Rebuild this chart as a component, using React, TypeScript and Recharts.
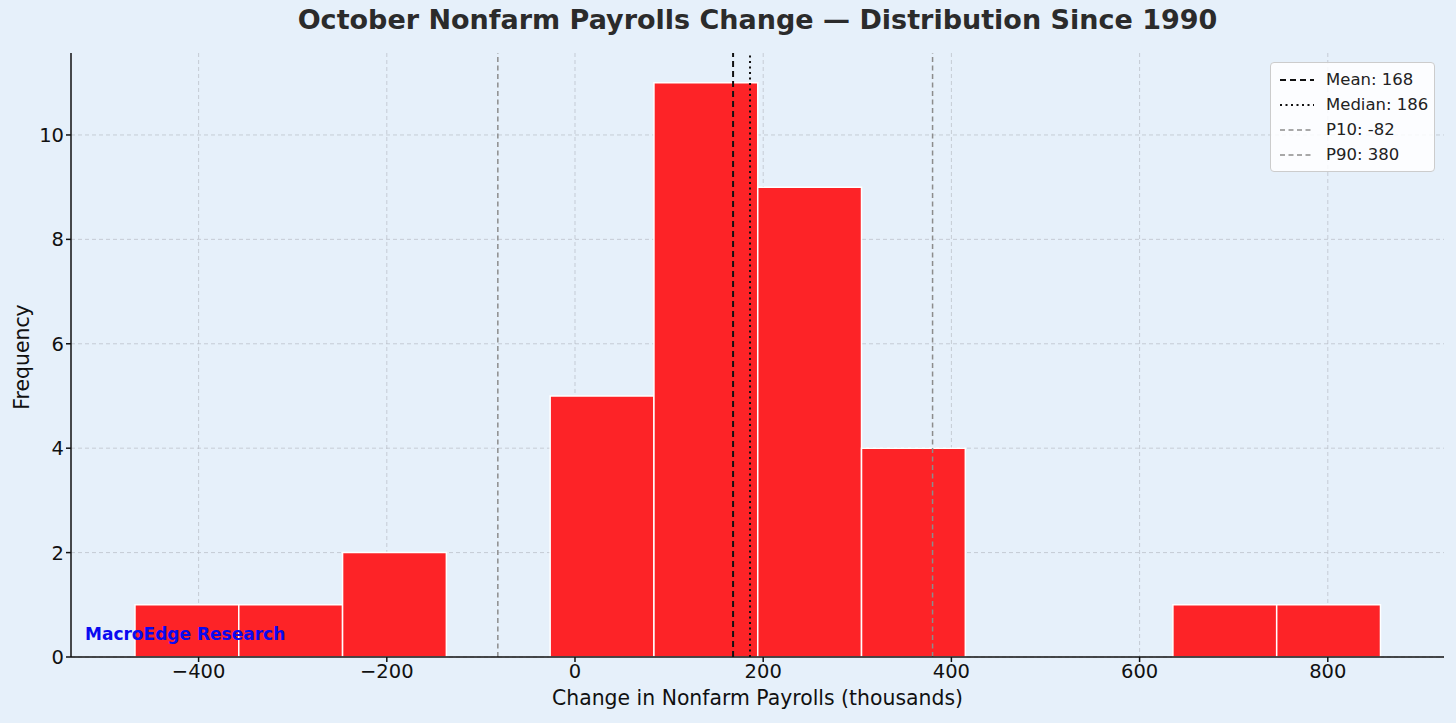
import {
  CartesianGrid,
  ComposedChart,
  Line,
  ReferenceArea,
  ReferenceLine,
  XAxis,
  YAxis,
} from "recharts"

// histogram bin edges (thousands) and counts, Octobers 1990-2024
const binEdges = [
  -467.6, -357.3, -247, -136.7, -26.4, 83.9, 194.2, 304.5, 414.8, 525.1, 635.4,
  745.7, 856,
]
const counts = [1, 1, 2, 0, 5, 11, 9, 4, 0, 0, 1, 1]
const xTicks = [-400, -200, 0, 200, 400, 600, 800]
const yTicks = [0, 2, 4, 6, 8, 10]
const stats = [
  { name: "Mean", value: 168 },
  { name: "Median", value: 186 },
  { name: "P10", value: -82 },
  { name: "P90", value: 380 },
]

const bins = counts.map((c, i) => ({
  x0: binEdges[i],
  x1: binEdges[i + 1],
  mid: (binEdges[i] + binEdges[i + 1]) / 2,
  count: c,
}))

const font = "'DejaVu Sans', sans-serif"
const bg = "#e6f0fa"
const barRed = "#fd2327"

const lineStyles: Record<string, { stroke: string; width: number; dash: string }> = {
  Mean: { stroke: "#111", width: 2, dash: "6 4" },
  Median: { stroke: "#111", width: 2, dash: "2 3.5" },
  P10: { stroke: "#8c8c8c", width: 1.5, dash: "5 3.5" },
  P90: { stroke: "#8c8c8c", width: 1.5, dash: "5 3.5" },
}

const fmt = (v: number) => (v < 0 ? "\u2212" + Math.abs(v) : String(v))

function StatsLegend() {
  return (
    <div
      style={{
        position: "absolute",
        top: 62,
        left: 1270,
        width: 165,
        boxSizing: "border-box",
        background: "rgba(255,255,255,0.85)",
        border: "1px solid #ccc",
        borderRadius: 4,
        padding: "4px 0 4px 8px",
        fontSize: 16.5,
        color: "#222",
      }}
    >
      {stats.map((s) => {
        const ls = lineStyles[s.name]
        return (
          <div key={s.name} style={{ display: "flex", alignItems: "center", height: 25 }}>
            <svg width={36} height={10} style={{ marginRight: 11 }}>
              <line
                x1={1}
                y1={5}
                x2={35}
                y2={5}
                stroke={ls.stroke}
                strokeWidth={ls.width}
                strokeDasharray={ls.dash}
              />
            </svg>
            <span>
              {s.name}: {s.value}
            </span>
          </div>
        )
      })}
    </div>
  )
}

export default function App() {
  return (
    <div
      style={{
        position: "fixed",
        top: 0,
        left: 0,
        width: 1456,
        height: 723,
        background: bg,
        fontFamily: font,
        overflow: "hidden",
      }}
    >
      <div
        style={{
          position: "absolute",
          top: 4,
          left: 71,
          width: 1373,
          textAlign: "center",
          fontSize: 27,
          fontWeight: "bold",
          color: "#2b2b2b",
        }}
      >
        October Nonfarm Payrolls Change — Distribution Since 1990
      </div>
      <ComposedChart
        width={1456}
        height={723}
        data={bins}
        margin={{ top: 53, right: 12, left: 11, bottom: 26 }}
      >
        <CartesianGrid
          stroke="#b8bcc4"
          strokeDasharray="4 3"
          strokeOpacity={0.7}
          horizontalValues={yTicks}
          verticalValues={xTicks}
        />
        <XAxis
          type="number"
          dataKey="mid"
          domain={[-535.6, 923.5]}
          ticks={xTicks}
          tickFormatter={fmt}
          allowDataOverflow
          height={40}
          stroke="#111"
          strokeWidth={1.5}
          tickSize={5}
          tick={{ fill: "#111", fontSize: 19.5, fontFamily: font }}
        />
        <YAxis
          type="number"
          domain={[0, 11.57]}
          ticks={yTicks}
          allowDataOverflow
          width={60}
          stroke="#111"
          strokeWidth={1.5}
          tickSize={5}
          tick={{ fill: "#111", fontSize: 19.5, fontFamily: font }}
        />
        {bins.map((b, i) =>
          b.count > 0 ? (
            <ReferenceArea
              key={i}
              x1={b.x0}
              x2={b.x1}
              y1={0}
              y2={b.count}
              fill={barRed}
              fillOpacity={1}
              stroke="#ffffff"
              strokeWidth={1.5}
              ifOverflow="visible"
            />
          ) : null
        )}
        <Line
          dataKey="count"
          stroke="none"
          dot={false}
          activeDot={false}
          legendType="none"
          isAnimationActive={false}
        />
        {stats.map((s) => {
          const ls = lineStyles[s.name]
          return (
            <ReferenceLine
              key={s.name}
              x={s.value}
              stroke={ls.stroke}
              strokeWidth={ls.width}
              strokeDasharray={ls.dash}
            />
          )
        })}
      </ComposedChart>
      <StatsLegend />
      <div
        style={{
          position: "absolute",
          left: 85,
          top: 624,
          color: "#0a0af0",
          fontWeight: "bold",
          fontSize: 17,
        }}
      >
        MacroEdge Research
      </div>
      <div
        style={{
          position: "absolute",
          top: 686,
          left: 71,
          width: 1373,
          textAlign: "center",
          fontSize: 20.4,
          color: "#111",
        }}
      >
        Change in Nonfarm Payrolls (thousands)
      </div>
      <div
        style={{
          position: "absolute",
          left: 22,
          top: 357,
          transform: "translate(-50%, -50%) rotate(-90deg)",
          fontSize: 20.4,
          color: "#111",
          whiteSpace: "nowrap",
        }}
      >
        Frequency
      </div>
    </div>
  )
}
